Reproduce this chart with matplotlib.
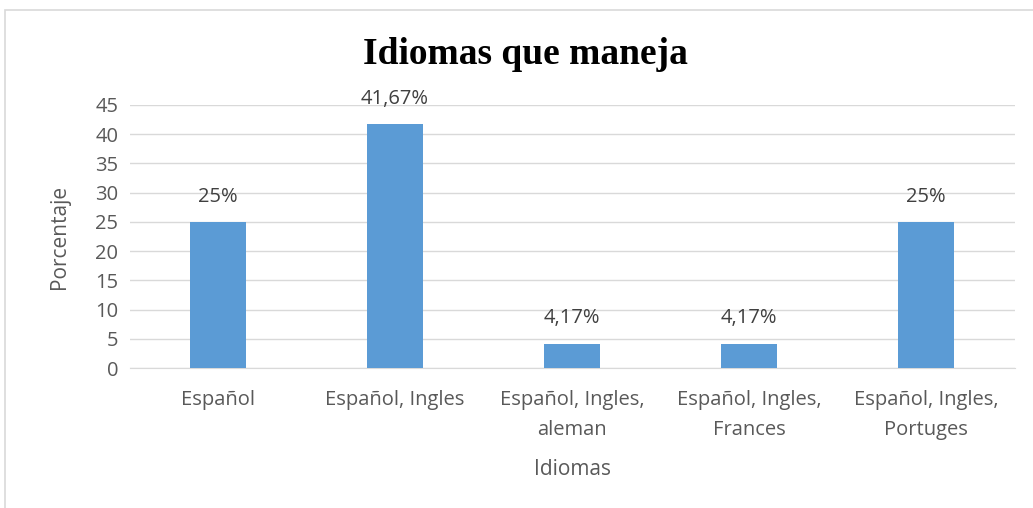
import matplotlib.pyplot as plt
from matplotlib.patches import Rectangle

idiomas = ['Español', 'Español, Ingles', 'Español, Ingles,\naleman',
           'Español, Ingles,\nFrances', 'Español, Ingles,\nPortuges']
porcentaje = [25, 41.67, 4.17, 4.17, 25]
etiquetas = ['25%', '41,67%', '4,17%', '4,17%', '25%']
yticks = [0, 5, 10, 15, 20, 25, 30, 35, 40, 45]

plt.rcParams['font.family'] = ['Open Sans', 'DejaVu Sans']
gris = '#595959'

fig = plt.figure(figsize=(10.33, 5.08), dpi=100)
ax = fig.add_axes([129.5 / 1033, 1 - 368 / 508, 885 / 1033, 263 / 508])

# marco del grafico
fig.patches.append(Rectangle((5 / 1033, -0.1), 1.1, 1 - 10 / 508 + 0.1,
                             transform=fig.transFigure, fill=False,
                             edgecolor='#D9D9D9', linewidth=1.2))

x = range(len(idiomas))
ax.bar(x, porcentaje, width=0.316, color='#5B9BD5', zorder=3)
for xi, v, t in zip(x, porcentaje, etiquetas):
    ax.annotate(t, (xi, v), xytext=(0, 11), textcoords='offset points',
                ha='center', va='bottom', fontsize=14.5, color='#404040')

ax.set_xlim(-0.5, len(idiomas) - 0.5)
ax.set_ylim(0, 45)
ax.set_yticks(yticks)
ax.yaxis.grid(True, color='#D9D9D9', linewidth=1)
ax.set_axisbelow(True)
for s in ['top', 'right', 'left']:
    ax.spines[s].set_visible(False)
ax.spines['bottom'].set_color('#D9D9D9')
ax.tick_params(length=0, colors=gris, labelsize=14.5)
ax.tick_params(axis='x', pad=16)
ax.tick_params(axis='y', pad=8)
ax.set_xticks(list(x))
ax.set_xticklabels(idiomas, linespacing=1.65)

ax.set_xlabel('Idiomas', fontsize=15, color=gris, labelpad=14)
ax.set_ylabel('Porcentaje', fontsize=15, color=gris, labelpad=18)

fig.text(525 / 1033, 1 - 55 / 508, 'Idiomas que maneja', ha='center', va='center',
         fontsize=27, fontweight='bold', family='Liberation Serif', color='black')

fig.savefig('out.png', dpi=100)
